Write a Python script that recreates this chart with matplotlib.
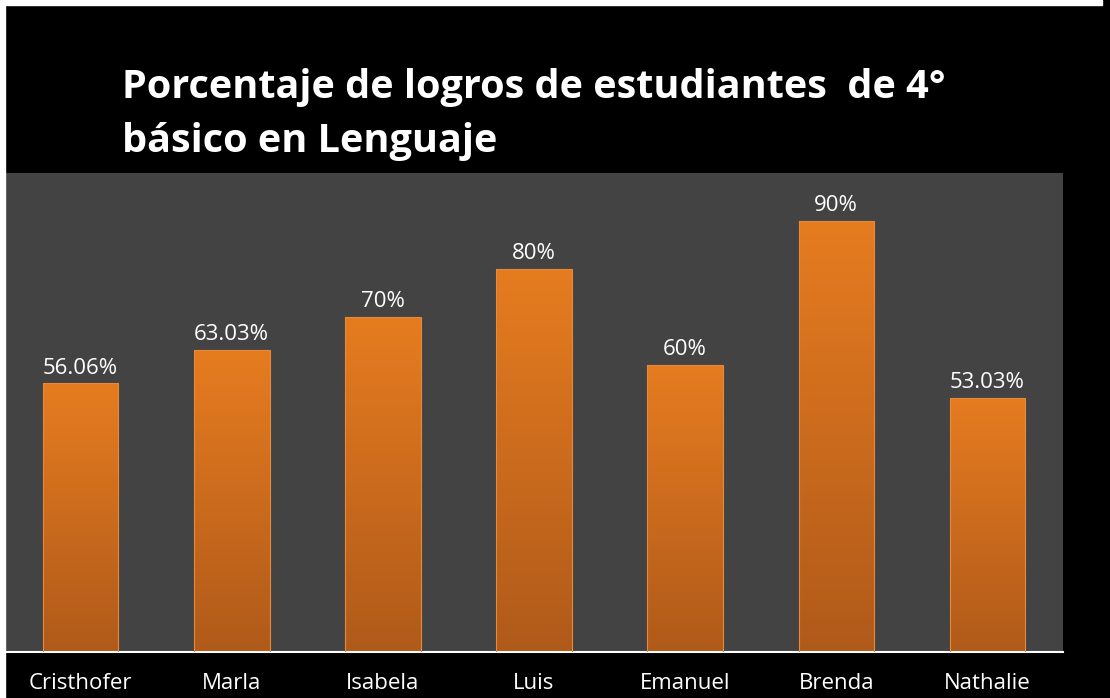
import numpy as np
import matplotlib
matplotlib.use("Agg")
import matplotlib.pyplot as plt
from matplotlib.colors import LinearSegmentedColormap
from matplotlib.patches import Rectangle

students = ["Cristhofer", "Marla", "Isabela", "Luis", "Emanuel", "Brenda", "Nathalie"]
scores = [56.06, 63.03, 70, 80, 60, 90, 53.03]
labels = ["56.06%", "63.03%", "70%", "80%", "60%", "90%", "53.03%"]
title = "Porcentaje de logros de estudiantes  de 4°\nbásico en Lenguaje"

W, H = 1110, 698
fig = plt.figure(figsize=(W / 100, H / 100), dpi=100, facecolor="black")

# white frame strips at top and left edge
fig.patches.append(Rectangle((0, 1 - 5 / H), 1102 / W, 5 / H, transform=fig.transFigure,
                             color="white", zorder=0))
fig.patches.append(Rectangle((0, 0), 5 / W, 1, transform=fig.transFigure,
                             color="white", zorder=0))

ax = fig.add_axes([5 / W, (H - 652) / H, (1063 - 5) / W, (652 - 173) / H])
ax.set_facecolor("#434343")

cmap = LinearSegmentedColormap.from_list("bar", ["#b05a1a", "#e67c20"])
grad = np.linspace(0, 1, 256).reshape(-1, 1)
width = 0.5
bars = ax.bar(range(len(students)), scores, width=width, color="none",
              edgecolor="#e98a3a", linewidth=0.8, zorder=3)
for i, (b, v) in enumerate(zip(bars, scores)):
    im = ax.imshow(grad, cmap=cmap, aspect="auto", origin="lower",
                   extent=(i - width / 2, i + width / 2, 0, v), zorder=2)
    im.set_clip_path(b)
    ax.text(i, v + 1.0, labels[i], ha="center", va="bottom", color="white",
            fontsize=16, family="Open Sans")
ax.set_xlim(-0.5, len(students) - 0.5)
ax.set_ylim(0, 100)

ax.set_xticks(range(len(students)))
ax.set_xticklabels(students, color="white", fontsize=16, family="Open Sans")
ax.tick_params(axis="x", length=0, pad=15)
ax.set_yticks([])
for s in ["top", "right", "left"]:
    ax.spines[s].set_visible(False)
ax.spines["bottom"].set_color("white")
ax.spines["bottom"].set_linewidth(1.5)

fig.text(122 / W, 1 - 68 / H, title, ha="left", va="top", color="white",
         fontsize=28.5, fontweight="bold", family="Open Sans", linespacing=1.5)

fig.savefig("out.png", dpi=100, facecolor="black")
